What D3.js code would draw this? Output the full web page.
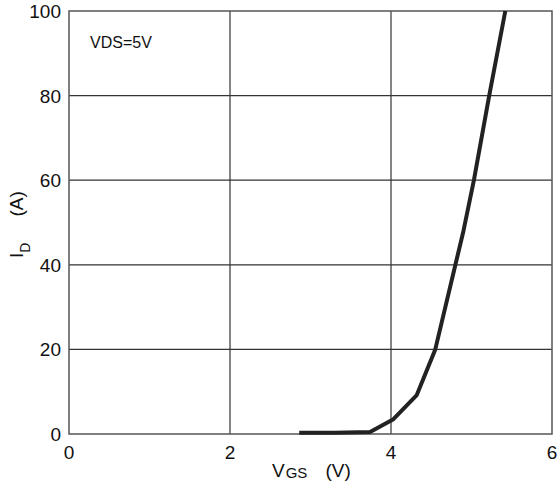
<!DOCTYPE html>
<html>
<head>
<meta charset="utf-8">
<script src="https://cdn.jsdelivr.net/npm/d3@7"></script>
<style>
  body { margin: 0; background: #fff; }
  text { font-family: "Liberation Sans", Arial, sans-serif; fill: #111; }
</style>
</head>
<body>
<script>
// transfer curve
const vgs = [2.86, 3.3, 3.74, 4.03, 4.32, 4.55, 4.8, 4.9, 5.03, 5.22, 5.42];
const idA = [0.3, 0.3, 0.5, 3.5, 9.2, 20, 40, 48, 60, 80, 100];
const xTicks = [0, 2, 4, 6];
const yTicks = [0, 20, 40, 60, 80, 100];
const note = 'VDS=5V';

const width = 558, height = 488;
const margin = { left: 69, right: 6, top: 11, bottom: 54 };

const svg = d3.select('body').append('svg')
    .attr('width', width)
    .attr('height', height);

const x = d3.scaleLinear().domain([0, 6]).range([margin.left, width - margin.right]);
const y = d3.scaleLinear().domain([0, 100]).range([height - margin.bottom, margin.top]);

// grid
svg.append('g')
    .selectAll('line.gx')
    .data(xTicks.slice(1, -1))
    .enter().append('line')
    .attr('x1', d => x(d)).attr('x2', d => x(d))
    .attr('y1', y(0)).attr('y2', y(100))
    .attr('stroke', '#333').attr('stroke-width', 1.2);

svg.append('g')
    .selectAll('line.gy')
    .data(yTicks.slice(1, -1))
    .enter().append('line')
    .attr('x1', x(0)).attr('x2', x(6))
    .attr('y1', d => y(d)).attr('y2', d => y(d))
    .attr('stroke', '#333').attr('stroke-width', 1.2);

// frame
svg.append('rect')
    .attr('x', x(0)).attr('y', y(100))
    .attr('width', x(6) - x(0)).attr('height', y(0) - y(100))
    .attr('fill', 'none')
    .attr('stroke', '#555').attr('stroke-width', 1.5);

// tick labels
svg.append('g')
    .selectAll('text')
    .data(xTicks)
    .enter().append('text')
    .attr('x', d => x(d))
    .attr('y', y(0) + 25)
    .attr('text-anchor', 'middle')
    .style('font-size', '19px')
    .text(d => d);

svg.append('g')
    .selectAll('text')
    .data(yTicks)
    .enter().append('text')
    .attr('x', x(0) - 8)
    .attr('y', d => y(d) + 7)
    .attr('text-anchor', 'end')
    .style('font-size', '19px')
    .text(d => d);

// axis titles
const xt = svg.append('text')
    .attr('x', 272).attr('y', 477)
    .style('font-size', '19px');
xt.append('tspan').text('V');
xt.append('tspan').attr('dy', 1).attr('dx', 1).style('font-size', '15px').text('GS');
xt.append('tspan').attr('dy', -1).attr('dx', 18).text('(V)');

const yt = svg.append('text')
    .attr('transform', 'translate(23,258) rotate(-90)')
    .style('font-size', '19px');
yt.append('tspan').text('I');
yt.append('tspan').attr('dy', 7).style('font-size', '14px').text('D');
yt.append('tspan').attr('dy', -7).attr('dx', 26).text('(A)');

svg.append('text')
    .attr('x', 90).attr('y', 48)
    .style('font-size', '16px')
    .text(note);

// curve
const line = d3.line()
    .x(d => x(d[0]))
    .y(d => y(d[1]));

svg.append('path')
    .datum(d3.zip(vgs, idA))
    .attr('d', line)
    .attr('fill', 'none')
    .attr('stroke', '#222')
    .attr('stroke-width', 4)
    .attr('stroke-linejoin', 'round');
</script>
</body>
</html>
